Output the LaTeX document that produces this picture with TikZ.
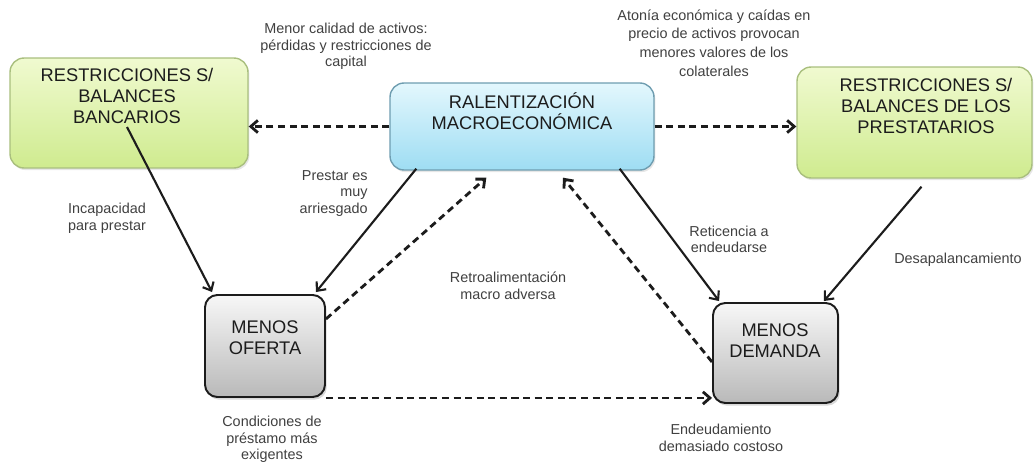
\documentclass[tikz,border=0pt]{standalone}
\usepackage{fontspec}
\setmainfont{Liberation Sans}
\usepackage{tikz}
\usetikzlibrary{arrows.meta,positioning,calc,shadows}
\definecolor{cInk}{HTML}{1C1C1C}
\definecolor{cText}{HTML}{404040}
\definecolor{cGreenT}{HTML}{F0FAD0}
\definecolor{cGreenB}{HTML}{CFEB8F}
\definecolor{cGreenD}{HTML}{A9BF7E}
\definecolor{cBlueT}{HTML}{E3F7FD}
\definecolor{cBlueB}{HTML}{9EDDF3}
\definecolor{cBlueD}{HTML}{6E9DB0}
\definecolor{cGrayT}{HTML}{F7F7F7}
\definecolor{cGrayB}{HTML}{B9B9B9}
\tikzset{
  gbox/.style={draw=cGreenD,top color=cGreenT,bottom color=cGreenB,rounded corners=8pt,line width=0.8pt,
    drop shadow={opacity=0.2,shadow xshift=0.8pt,shadow yshift=-1.2pt}},
  bbox/.style={draw=cBlueD,top color=cBlueT,bottom color=cBlueB,rounded corners=8pt,line width=0.8pt,
    drop shadow={opacity=0.2,shadow xshift=0.8pt,shadow yshift=-1.2pt}},
  kbox/.style={draw=cInk,top color=cGrayT,bottom color=cGrayB,rounded corners=7pt,line width=1.1pt,
    drop shadow={opacity=0.3,shadow xshift=1pt,shadow yshift=-1.5pt}},
  btxt/.style={font=\fontsize{10.4}{11.9}\selectfont,align=center,text=cInk,inner sep=0pt},
  lbl/.style={font=\fontsize{8.2}{9.5}\selectfont,align=center,text=cText,inner sep=0pt},
  arr/.style={-{Straight Barb[length=4pt,width=7pt]},line width=1.2pt,color=cInk},
  darr/.style={arr,line width=1.6pt,dash pattern=on 4pt off 2.6pt},
}

\begin{document}
\begin{tikzpicture}[x=0.02cm,y=-0.02cm]
  \useasboundingbox (0,0) rectangle (1036,463);
  % boxes
  \node[gbox,minimum width=4.76cm,minimum height=2.2cm] (bank) at (129,113) {};
  \node[bbox,minimum width=5.28cm,minimum height=1.74cm] (macro) at (522,126.5) {};
  \node[gbox,minimum width=4.7cm,minimum height=2.22cm] (borrow) at (914.5,122.5) {};
  \node[kbox,minimum width=2.4cm,minimum height=2.04cm] (oferta) at (265,346) {};
  \node[kbox,minimum width=2.5cm,minimum height=2.0cm] (demanda) at (775.5,353) {};
  \node[btxt] (bankT) at (127,96) {RESTRICCIONES S/\\BALANCES\\BANCARIOS};
  \node[btxt] (macroT) at (522,111) {RALENTIZACIÓN\\MACROECONÓMICA};
  \node[btxt] (borrowT) at (926,106) {RESTRICCIONES S/\\BALANCES DE LOS\\PRESTATARIOS};
  \node[btxt] (ofertaT) at (265,338) {MENOS\\OFERTA};
  \node[btxt] (demandaT) at (775,341) {MENOS\\DEMANDA};
  % connectors
  \draw[darr] (macro.west) -- (macro.west -| bank.east);
  \draw[darr] (macro.east) -- (macro.east -| borrow.west);
  \draw[arr] ($(bank.center)+(-2,14)$) -- ($(oferta.north west)+(8,-2)$);
  \draw[arr] ($(macro.south west)+(27,-2)$) -- ($(oferta.north east)+(-10,-2)$);
  \draw[darr] ($(oferta.east)+(0,-27)$) -- ($(macro.south west)+(97,7)$);
  \draw[darr] (oferta.south east) -- (oferta.south east -| demanda.west);
  \draw[arr] ($(macro.south east)+(-35,-2)$) -- ($(demanda.north west)+(7,-1)$);
  \draw[darr] ($(demanda.west)+(0,9)$) -- ($(macro.south)+(41,7)$);
  \draw[arr] ($(borrow.south)+(7,8)$) -- ($(demanda.north east)+(-15,-1)$);
  % labels
  \node[lbl] (lCalidad) at (346,46.5) {Menor calidad de activos:\\pérdidas y restricciones de\\capital};
  \node[lbl,font=\fontsize{8.2}{10.6}\selectfont] (lAtonia) at (714,43) {Atonía económica y caídas en\\precio de activos provocan\\menores valores de los\\colaterales};
  \node[lbl] (lIncap) at (107,218.5) {Incapacidad\\para prestar};
  \node[lbl,align=right,anchor=east] (lRiesgo) at (368,193.5) {Prestar es\\muy\\arriesgado};
  \node[lbl] (lRetro) at (508,286) {Retroalimentación\\macro adversa};
  \node[lbl] (lReticencia) at (729,239.5) {Reticencia a\\endeudarse};
  \node[lbl] (lDesap) at (958,260) {Desapalancamiento};
  \node[lbl] (lCond) at (272,439.5) {Condiciones de\\préstamo más\\exigentes};
  \node[lbl] (lEndeud) at (721,438) {Endeudamiento\\demasiado costoso};
\end{tikzpicture}
\end{document}
